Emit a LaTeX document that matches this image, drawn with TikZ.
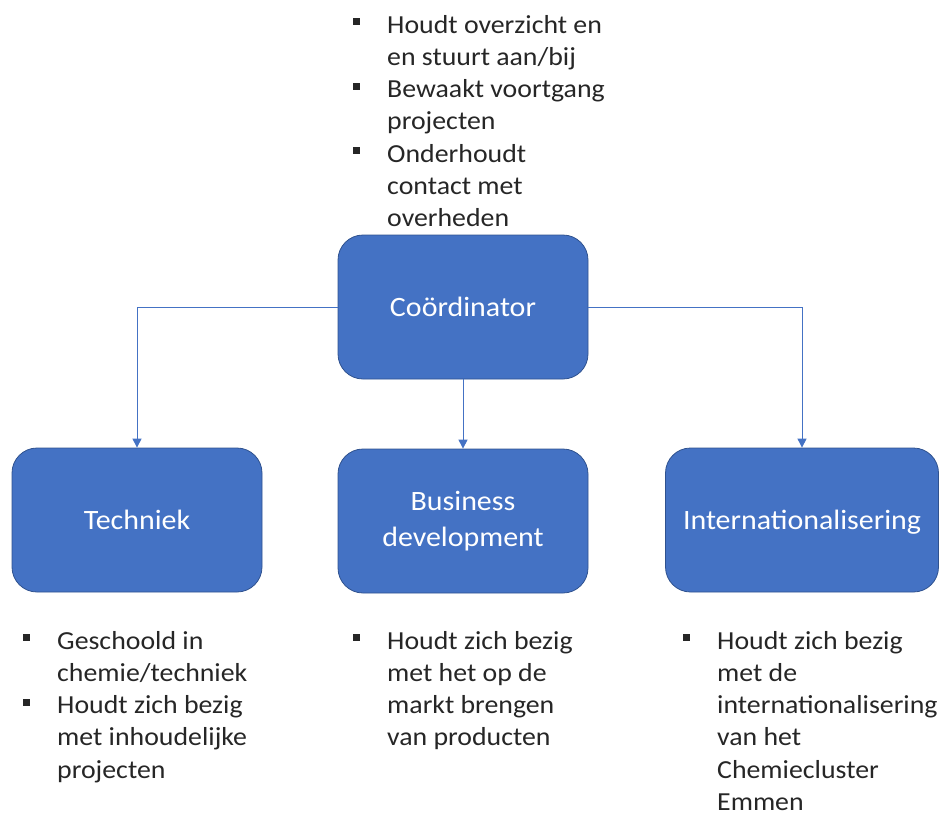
\documentclass[tikz,border=0pt]{standalone}
\usepackage{fontspec}
\setmainfont[FakeStretch=1.07]{Carlito}
\usepackage{xcolor}
\definecolor{kantoorblauw}{RGB}{68, 114, 196}
\definecolor{randblauw}{RGB}{47, 82, 143}
\definecolor{tekstgrijs}{RGB}{38, 38, 38}
\usetikzlibrary{positioning, arrows.meta}
\newcommand{\blokje}{\rule[8pt]{7pt}{7pt}}
\newenvironment{puntlijst}{\begin{tabular}[t]{@{}l@{\hspace{27pt}}l@{}}}{\end{tabular}}
\tikzset{
	doos/.style={rectangle, rounded corners=25pt, fill=kantoorblauw, draw=randblauw, line width=0.8pt, text=white, align=center, minimum width=250pt, minimum height=144pt, font=\fontsize{28}{36}\selectfont},
	lijst/.style={inner sep=0pt, anchor=base west, text=tekstgrijs, font=\fontsize{26}{32.3}\selectfont},
	verbinding/.style={->, draw=kantoorblauw, line width=1pt}
}

\begin{document}
\begin{tikzpicture}[x=1pt, y=-1pt, > = {Triangle[length=9pt, width=9pt]}]
			\useasboundingbox (0,0) rectangle (939,812);
			
			\node [doos] (coord) at (463,307) {Coördinator};
			\node [doos] (tech) at (137,520) {Techniek};
			\node [doos] (bus) at (463,521) {Business\\development};
			\node [doos, minimum width=273pt, text depth=0pt] (intl) at (802,520) {Internationalisering};
			
			\draw [verbinding] (coord.west) -| (tech.north);
			\draw [verbinding] (coord.south) -- (bus.north);
			\draw [verbinding] (coord.east) -| (intl.north);
			
			\node [lijst] (taken) at (353,33) {\begin{puntlijst}
				\blokje & Houdt overzicht en \\ & en stuurt aan/bij \\
				\blokje & Bewaakt voortgang \\ & projecten \\
				\blokje & Onderhoudt \\ & contact met \\ & overheden
			\end{puntlijst}};
			\node [lijst] (techtaken) at (23,649) {\begin{puntlijst}
				\blokje & Geschoold in \\ & chemie/techniek \\
				\blokje & Houdt zich bezig \\ & met inhoudelijke \\ & projecten
			\end{puntlijst}};
			\node [lijst] (bustaken) at (353,649) {\begin{puntlijst}
				\blokje & Houdt zich bezig \\ & met het op de \\ & markt brengen \\ & van producten
			\end{puntlijst}};
			\node [lijst] (intltaken) at (683,649) {\begin{puntlijst}
				\blokje & Houdt zich bezig \\ & met de \\ & internationalisering \\ & van het \\ & Chemiecluster \\ & Emmen
			\end{puntlijst}};
		\end{tikzpicture}
\end{document}
